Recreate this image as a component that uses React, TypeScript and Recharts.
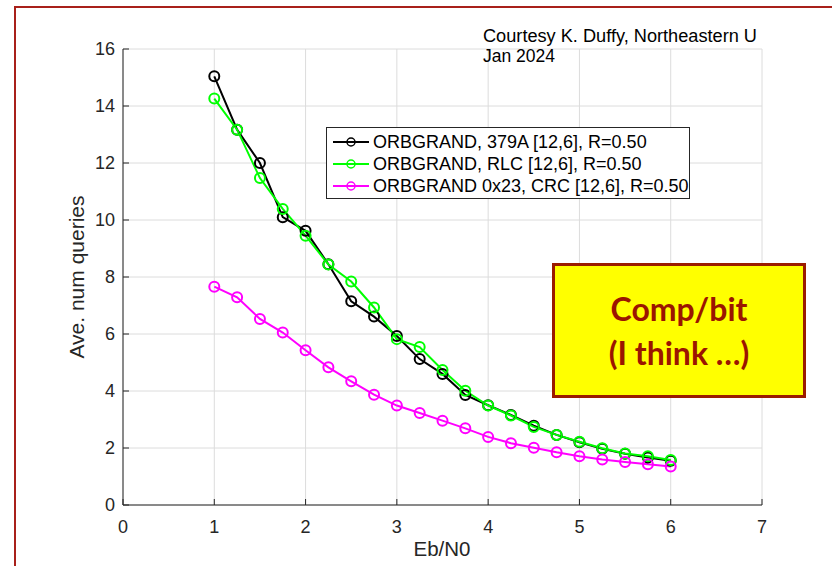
import { LineChart, Line, XAxis, YAxis, CartesianGrid } from 'recharts';

const ebn0 = [1, 1.25, 1.5, 1.75, 2, 2.25, 2.5, 2.75, 3, 3.25, 3.5, 3.75, 4, 4.25, 4.5, 4.75, 5, 5.25, 5.5, 5.75, 6];
const orb379a = [15.04, 13.17, 12.0, 10.1, 9.62, 8.45, 7.15, 6.61, 5.93, 5.12, 4.6, 3.86, 3.5, 3.16, 2.78, 2.46, 2.2, 1.97, 1.8, 1.67, 1.55];
const orbRlc = [14.26, 13.17, 11.47, 10.39, 9.45, 8.44, 7.84, 6.93, 5.82, 5.54, 4.74, 4.01, 3.49, 3.14, 2.74, 2.46, 2.22, 1.99, 1.81, 1.71, 1.58];
const orbCrc = [7.66, 7.29, 6.53, 6.05, 5.43, 4.83, 4.34, 3.87, 3.49, 3.23, 2.96, 2.69, 2.39, 2.17, 2.01, 1.85, 1.71, 1.6, 1.51, 1.43, 1.35];

const xTicks = [0, 1, 2, 3, 4, 5, 6, 7];
const yTicks = [0, 2, 4, 6, 8, 10, 12, 14, 16];

const series = [
  { key: 'a', name: 'ORBGRAND, 379A [12,6], R=0.50', color: '#000000' },
  { key: 'b', name: 'ORBGRAND, RLC [12,6], R=0.50', color: '#00ff00' },
  { key: 'c', name: 'ORBGRAND 0x23, CRC [12,6], R=0.50', color: '#ff00ff' },
];

const data = ebn0.map((x, i) => ({ x, a: orb379a[i], b: orbRlc[i], c: orbCrc[i] }));

const axisColor = '#262626';
const font = '"Liberation Sans", Arial, sans-serif';

const XTick = ({ x, y, payload }: any) => (
  <g>
    <line x1={x} x2={x} y1={y} y2={y - 6} stroke={axisColor} strokeWidth={1} />
    <text x={x} y={y + 28} textAnchor="middle" fontSize={18} fill={axisColor} fontFamily={font}>
      {payload.value}
    </text>
  </g>
);

const YTick = ({ x, y, payload }: any) => (
  <g>
    <line x1={x} x2={x + 6} y1={y} y2={y} stroke={axisColor} strokeWidth={1} />
    <text x={x - 8} y={y + 6} textAnchor="end" fontSize={18} fill={axisColor} fontFamily={font}>
      {payload.value}
    </text>
  </g>
);

const App = () => {
  return (
    <div style={{ position: 'absolute', left: 0, top: 0, width: 832, height: 566, background: '#fff', overflow: 'hidden' }}>
      <div
        style={{
          position: 'absolute',
          left: 14,
          top: 6,
          width: 840,
          height: 600,
          border: '2px solid #a8201a',
          boxSizing: 'border-box',
        }}
      />
      <LineChart width={832} height={566} data={data} margin={{ top: 49, right: 70, bottom: 31, left: 60 }}>
        <CartesianGrid stroke="#dcdcdc" strokeWidth={1} horizontalValues={yTicks} verticalValues={xTicks} />
        <XAxis
          dataKey="x"
          type="number"
          domain={[0, 7]}
          ticks={xTicks}
          tickSize={0}
          tickMargin={0}
          height={30}
          stroke={axisColor}
          tickLine={false}
          tick={<XTick />}
        />
        <YAxis
          type="number"
          domain={[0, 16]}
          ticks={yTicks}
          tickSize={0}
          tickMargin={0}
          width={63}
          stroke={axisColor}
          tickLine={false}
          tick={<YTick />}
        />
        {series.map((s) => (
          <Line
            key={s.key}
            dataKey={s.key}
            name={s.name}
            stroke={s.color}
            strokeWidth={2}
            dot={{ r: 5, stroke: s.color, strokeWidth: 2, fill: 'none' }}
            isAnimationActive={false}
          />
        ))}
        {/* axis titles */}
        <text x={442} y={556} textAnchor="middle" fontSize={20.5} fill={axisColor} fontFamily={font}>Eb/N0</text>
        <text x={84} y={277} transform="rotate(-90 84 277)" textAnchor="middle" fontSize={21} fill={axisColor} fontFamily={font}>
          Ave. num queries
        </text>
        <text x={483} y={42} fontSize={17.5} fill="#000" fontFamily={font} textLength={274} lengthAdjust="spacingAndGlyphs">
          Courtesy K. Duffy, Northeastern U
        </text>
        <text x={483} y={62} fontSize={17.5} fill="#000" fontFamily={font}>Jan 2024</text>
      </LineChart>
      <div
        style={{
          position: 'absolute',
          left: 326,
          top: 127,
          width: 364,
          height: 72,
          boxSizing: 'border-box',
          border: `1px solid ${axisColor}`,
          background: '#fff',
          padding: '3px 0 0 6px',
          fontFamily: font,
          fontSize: 18,
          color: '#000',
          lineHeight: '22px',
        }}
      >
        {series.map((s) => (
          <div key={s.key} style={{ display: 'flex', alignItems: 'center', whiteSpace: 'nowrap' }}>
            <svg width={37} height={14} style={{ marginRight: 3, flexShrink: 0 }}>
              <line x1={0} x2={36} y1={7} y2={7} stroke={s.color} strokeWidth={2} />
              <circle cx={18} cy={7} r={4} fill="none" stroke={s.color} strokeWidth={1.5} />
            </svg>
            <span>{s.name}</span>
          </div>
        ))}
      </div>
      <div
        style={{
          position: 'absolute',
          left: 552,
          top: 263,
          width: 254,
          height: 135,
          background: '#ffff00',
          border: '3px solid #9b1c00',
          boxSizing: 'border-box',
          display: 'flex',
          flexDirection: 'column',
          justifyContent: 'center',
          alignItems: 'center',
          color: '#9b1500',
          fontFamily: 'Lato, "Open Sans", sans-serif',
          fontWeight: 700,
          fontSize: 32,
          lineHeight: '44px',
        }}
      >
        <div>Comp/bit</div>
        <div>(I think …)</div>
      </div>
    </div>
  );
};

export default App;
